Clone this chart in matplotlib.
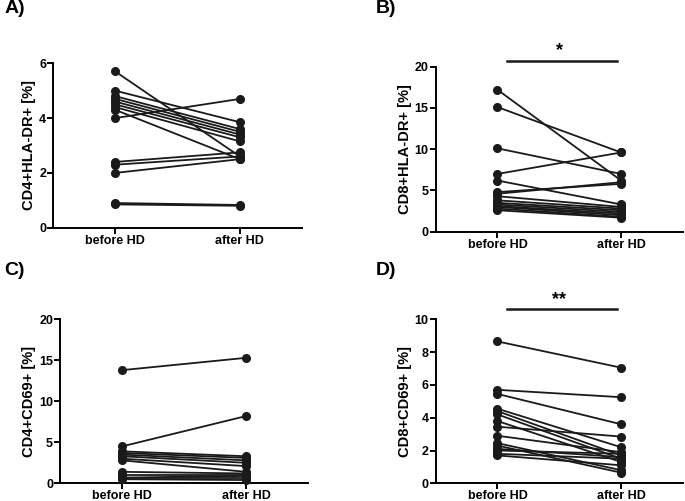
import numpy as np
import matplotlib.pyplot as plt

plt.rcParams['font.family'] = ['Liberation Sans', 'DejaVu Sans']
plt.rcParams['font.weight'] = 'bold'

groups = ['before HD', 'after HD']

# A) CD4+HLA-DR+
a_before = [5.7, 5.0, 4.8, 4.7, 4.6, 4.5, 4.4, 4.3, 4.0, 2.4, 2.3, 2.0, 0.9, 0.85]
a_after = [2.6, 3.85, 3.6, 3.5, 3.4, 3.3, 3.15, 2.5, 4.7, 2.75, 2.6, 2.5, 0.83, 0.8]

# B) CD8+HLA-DR+
b_before = [17.2, 15.1, 10.1, 7.0, 6.2, 4.8, 4.6, 4.3, 3.8, 3.5, 3.3, 3.1, 3.0, 2.8, 2.6]
b_after = [6.2, 9.6, 7.0, 9.6, 3.3, 5.8, 6.0, 3.0, 2.8, 2.6, 2.4, 2.2, 2.0, 1.8, 1.7]

# C) CD4+CD69+
c_before = [13.8, 4.5, 3.9, 3.7, 3.5, 3.3, 3.0, 2.8, 1.4, 1.0, 0.7, 0.6, 0.5]
c_after = [15.3, 8.2, 3.3, 3.1, 2.8, 2.5, 2.1, 1.4, 1.2, 1.0, 0.9, 0.6, 0.4]

# D) CD8+CD69+
d_before = [8.65, 5.7, 5.45, 4.55, 4.4, 4.2, 3.8, 3.45, 2.9, 2.45, 2.3, 2.1, 2.0, 1.8, 1.7]
d_after = [7.05, 5.25, 3.6, 2.2, 1.7, 1.5, 1.3, 2.85, 1.9, 0.8, 0.65, 1.6, 1.8, 1.5, 1.1]

# label, before, after, ylabel, yticks, (star, bar y, star y), axes rect, label xy
panels = [
    ('A)', a_before, a_after, 'CD4+HLA-DR+ [%]', [0, 2, 4, 6], None,
     [0.0774, 0.5455, 0.3636, 0.3282], (0.006, 1.0)),
    ('B)', b_before, b_after, 'CD8+HLA-DR+ [%]', [0, 5, 10, 15, 20], ('*', 20.7, 22.0),
     [0.636, 0.5375, 0.361, 0.3295], (0.548, 1.0)),
    ('C)', c_before, c_after, 'CD4+CD69+ [%]', [0, 5, 10, 15, 20], None,
     [0.0876, 0.0353, 0.3621, 0.3274], (0.006, 0.478)),
    ('D)', d_before, d_after, 'CD8+CD69+ [%]', [0, 2, 4, 6, 8, 10], ('**', 10.63, 11.18),
     [0.636, 0.0353, 0.361, 0.3274], (0.548, 0.478)),
]

fig = plt.figure(figsize=(6.85, 5.01), dpi=100)

for label, before, after, ylabel, yticks, sig, pos, lxy in panels:
    ax = fig.add_axes(pos)
    for b, a in zip(before, after):
        ax.plot([0, 1], [b, a], color='#1a1a1a', lw=1.3, marker='o', ms=5.5,
                mfc='#1a1a1a', mec='#1a1a1a', clip_on=False, zorder=3)
    ax.set_xlim(-0.5, 1.5)
    ax.set_ylim(yticks[0], yticks[-1])
    ax.set_yticks(yticks)
    ax.set_xticks([0, 1])
    ax.set_xticklabels(groups, fontsize=9, fontweight='bold')
    ax.set_ylabel(ylabel, fontsize=10.5, fontweight='bold', labelpad=2)
    for t in ax.get_yticklabels():
        t.set_fontsize(9)
        t.set_fontweight('bold')
    ax.spines['top'].set_visible(False)
    ax.spines['right'].set_visible(False)
    ax.spines['left'].set_linewidth(1.4)
    ax.spines['bottom'].set_linewidth(1.4)
    ax.tick_params(direction='out', width=1.4, length=4, pad=1)
    if sig:
        star, bar_y, star_y = sig
        ax.plot([0.08, 0.97], [bar_y, bar_y], color='#1a1a1a', lw=1.8, clip_on=False)
        ax.text(0.5, star_y, star, ha='center', va='center', fontsize=13, fontweight='bold')
    fig.text(lxy[0], lxy[1], label, fontsize=14, fontweight='bold', va='top', ha='left')

fig.savefig('out.png', dpi=100)
